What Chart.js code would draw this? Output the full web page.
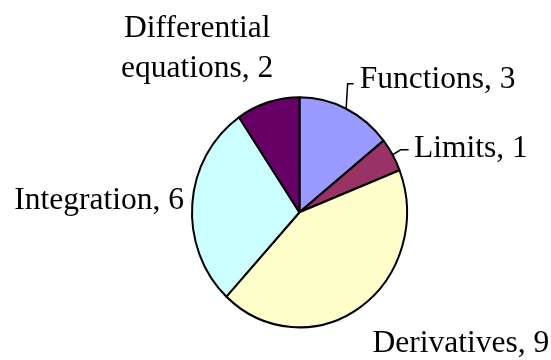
<!DOCTYPE html>
<html>
<head>
<meta charset="utf-8">
<script src="https://cdn.jsdelivr.net/npm/chart.js@4/dist/chart.umd.min.js"></script>
<style>
    html, body { margin: 0; padding: 0; background: #ffffff; }
    #topicsChart { display: block; }
</style>
</head>
<body>
<canvas id="topicsChart" width="551" height="360"></canvas>
<script>
// Topics and how many questions fall in each
const topics = ['Functions', 'Limits', 'Derivatives', 'Integration', 'Differential equations'];
const counts = [3, 1, 9, 6, 2];
const sliceColors = ['#9999FF', '#993366', '#FFFFCC', '#CCFFFF', '#660066'];

// Label placement relative to the slice's outer edge midpoint
const labelLayout = [
    { dx: 13.5, dy: -21, align: 'left', leader: [[1.5, -25], [7.5, -25]] },
    { dx: 21.5, dy: 2.6, align: 'left', leader: [[8, -5], [16, -5]] },
    { dx: 12.5, dy: 45, align: 'left' },
    { dx: -8.3, dy: 5.4, align: 'right' },
    { dx: -70.6, dy: -25.6, align: 'center', wrap: true }
];

const stretchY = 1.07;
const labelFont = "31.5px 'Liberation Serif', 'Times New Roman', serif";
const lineGap = 40;

document.addEventListener('DOMContentLoaded', function() {
    // Excel-style slightly tall pie
    const stretchPlugin = {
        id: 'stretch',
        beforeDatasetsDraw(chart) {
            const arc = chart.getDatasetMeta(0).data[0];
            const ctx = chart.ctx;
            ctx.save();
            ctx.translate(arc.x, arc.y);
            ctx.scale(1, stretchY);
            ctx.translate(-arc.x, -arc.y);
        },
        afterDatasetsDraw(chart) {
            chart.ctx.restore();
        }
    };

    // Outside labels "Name, value" with short leader lines
    const sliceLabels = {
        id: 'sliceLabels',
        afterDraw(chart) {
            const ctx = chart.ctx;
            const meta = chart.getDatasetMeta(0);
            ctx.save();
            ctx.font = labelFont;
            ctx.fillStyle = '#000';
            ctx.strokeStyle = '#000';
            ctx.lineWidth = 1.5;
            ctx.textBaseline = 'alphabetic';
            meta.data.forEach((arc, i) => {
                const p = arc.getProps(['x', 'y', 'startAngle', 'endAngle', 'outerRadius'], true);
                const mid = (p.startAngle + p.endAngle) / 2;
                const ex = p.x + Math.cos(mid) * p.outerRadius;
                const ey = p.y + Math.sin(mid) * p.outerRadius * stretchY;
                const lay = labelLayout[i];

                if (lay.leader) {
                    ctx.beginPath();
                    ctx.moveTo(ex, ey);
                    lay.leader.forEach(pt => ctx.lineTo(ex + pt[0], ey + pt[1]));
                    ctx.stroke();
                }

                const text = topics[i] + ', ' + counts[i];
                let lines = [text];
                if (lay.wrap) {
                    const cut = text.indexOf(' ');
                    lines = [text.slice(0, cut), text.slice(cut + 1)];
                }
                ctx.textAlign = lay.align;
                const tx = ex + lay.dx;
                const ty = ey + lay.dy;
                lines.forEach((line, k) => {
                    ctx.fillText(line, tx, ty - (lines.length - 1 - k) * lineGap);
                });
            });
            ctx.restore();
        }
    };

    new Chart(document.getElementById('topicsChart'), {
        type: 'pie',
        data: {
            labels: topics,
            datasets: [{
                data: counts,
                backgroundColor: sliceColors,
                borderColor: '#000000',
                borderWidth: 2,
                radius: 107.5
            }]
        },
        options: {
            responsive: false,
            animation: false,
            layout: { padding: { left: 100, right: 52, top: 100, bottom: 35.4 } },
            plugins: {
                legend: { display: false },
                tooltip: { enabled: false }
            }
        },
        plugins: [stretchPlugin, sliceLabels]
    });
});
</script>
</body>
</html>
